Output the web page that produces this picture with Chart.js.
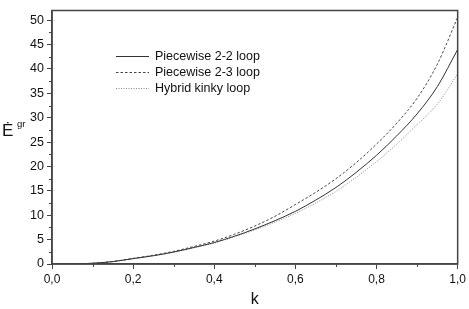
<!DOCTYPE html>
<html>
<head>
<meta charset="utf-8">
<script src="https://cdn.jsdelivr.net/npm/chart.js@4.4.1/dist/chart.umd.min.js"></script>
<style>
  html, body { margin: 0; padding: 0; background: #fff; }
  #wrap { width: 469px; height: 309px; }
</style>
</head>
<body>
<div id="wrap"><canvas id="grafica"></canvas></div>
<script>
// valores
var k = [0, 0.05, 0.1, 0.15, 0.2, 0.25, 0.3, 0.35, 0.4, 0.45, 0.5, 0.55, 0.6, 0.65, 0.7, 0.75, 0.8, 0.85, 0.9, 0.95, 1.0];
var loop22 = [0, 0.02, 0.15, 0.5, 1.1, 1.7, 2.45, 3.4, 4.4, 5.7, 7.2, 8.9, 10.8, 13.1, 15.7, 18.8, 22.3, 26.3, 30.8, 36.4, 44.0];
var loop23 = [0, 0.02, 0.15, 0.5, 1.15, 1.8, 2.6, 3.6, 4.7, 6.1, 7.8, 9.8, 12.2, 14.7, 17.5, 20.8, 24.6, 28.9, 34.0, 41.0, 50.6];
var kinky = [0, 0.02, 0.15, 0.5, 1.1, 1.7, 2.4, 3.3, 4.3, 5.6, 7.0, 8.6, 10.4, 12.5, 14.9, 17.8, 21.0, 24.6, 28.6, 32.8, 39.0];
var nombres = ["Piecewise 2-2 loop", "Piecewise 2-3 loop", "Hybrid kinky loop"];
var xTicks = [0, 0.2, 0.4, 0.6, 0.8, 1.0];

var fuente = '"Liberation Sans", Arial, sans-serif';
var colores = ['#333', '#444', '#888'];
var guiones = [[], [2.5, 2], [1, 1.5]];

function puntos(ys) {
  return k.map(function (x, i) { return { x: x, y: ys[i] }; });
}

var series = [loop22, loop23, kinky];
var datasets = series.map(function (ys, i) {
  return {
    label: nombres[i],
    data: puntos(ys),
    borderColor: colores[i],
    borderWidth: 1,
    borderDash: guiones[i],
    pointRadius: 0,
    cubicInterpolationMode: 'monotone',
    fill: false
  };
});

// marco, ticks menores, leyenda y titulo del eje y
var extras = {
  id: 'extras',
  afterDraw: function (chart) {
    var ctx = chart.ctx, a = chart.chartArea;
    var sx = chart.scales.x, sy = chart.scales.y;
    ctx.save();
    ctx.strokeStyle = '#444';
    ctx.lineWidth = 1.5;
    ctx.strokeRect(a.left, a.top, a.right - a.left, a.bottom - a.top);

    ctx.lineWidth = 1;
    ctx.beginPath();
    for (var v = 0.1; v < 1; v += 0.2) {
      var px = Math.round(sx.getPixelForValue(v)) + 0.5;
      ctx.moveTo(px, a.bottom);
      ctx.lineTo(px, a.bottom + 3);
    }
    for (var w = 2.5; w < 52; w += 5) {
      var py = Math.round(sy.getPixelForValue(w)) + 0.5;
      ctx.moveTo(a.left, py);
      ctx.lineTo(a.left - 3, py);
    }
    ctx.stroke();

    // leyenda
    var lx = 116, ly = [56, 72, 88];
    for (var i = 0; i < nombres.length; i++) {
      ctx.strokeStyle = colores[i];
      ctx.setLineDash(guiones[i]);
      ctx.beginPath();
      ctx.moveTo(lx, ly[i] + 0.5);
      ctx.lineTo(lx + 33, ly[i] + 0.5);
      ctx.stroke();
      ctx.setLineDash([]);
      ctx.fillStyle = '#111';
      ctx.font = '12.5px ' + fuente;
      ctx.textBaseline = 'middle';
      ctx.fillText(nombres[i], lx + 39, ly[i] + 1);
    }

    // titulo eje y
    ctx.fillStyle = '#111';
    ctx.textBaseline = 'alphabetic';
    ctx.font = '17px ' + fuente;
    ctx.fillText('\u0116', 2, 136);
    ctx.font = '9.5px ' + fuente;
    ctx.fillText('gr', 17, 127);
    ctx.restore();
  }
};

var grafica = document.getElementById('grafica').getContext('2d');
var chart = new Chart(grafica, {
  type: 'line',
  data: { datasets: datasets },
  options: {
    responsive: true,
    maintainAspectRatio: false,
    animation: false,
    layout: { padding: { top: 3, right: 10, left: 0, bottom: 0 } },
    plugins: {
      legend: { display: false },
      tooltip: { enabled: false }
    },
    scales: {
      x: {
        type: 'linear',
        min: 0,
        max: 1,
        afterFit: function (s) { s.height = 45; },
        afterBuildTicks: function (s) {
          s.ticks = xTicks.map(function (v) { return { value: v }; });
        },
        ticks: {
          color: '#111',
          font: { family: fuente, size: 12 },
          padding: 3,
          maxRotation: 0,
          callback: function (v) { return Number(v).toFixed(1).replace('.', ','); }
        },
        grid: { drawOnChartArea: false, tickLength: 5, color: '#444', tickWidth: 1 },
        border: { display: true, color: '#444', width: 1.5 },
        title: { display: true, text: 'k', color: '#111', font: { family: fuente, size: 16 }, padding: { top: 4, bottom: 0 } }
      },
      y: {
        type: 'linear',
        min: 0,
        max: 52,
        afterFit: function (s) { s.width = 52; },
        ticks: {
          stepSize: 5,
          includeBounds: false,
          color: '#111',
          font: { family: fuente, size: 12.5 },
          padding: 3
        },
        grid: { drawOnChartArea: false, tickLength: 5, color: '#444', tickWidth: 1 },
        border: { display: true, color: '#444', width: 1.5 }
      }
    }
  },
  plugins: [extras]
});
</script>
</body>
</html>
